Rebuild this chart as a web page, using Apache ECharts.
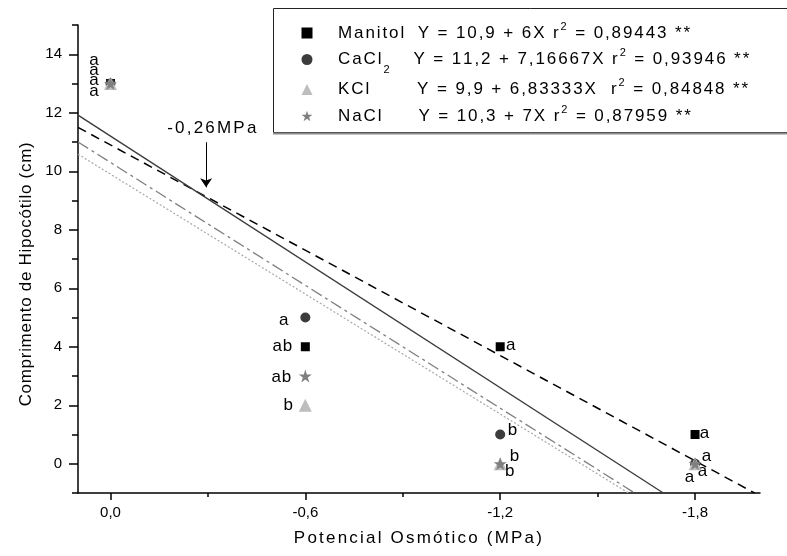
<!DOCTYPE html>
<html>
<head>
<meta charset="utf-8">
<title>Comprimento de Hipocótilo</title>
<script src="https://cdn.jsdelivr.net/npm/echarts@6.0.0/dist/echarts.min.js"></script>
<style>
  html, body { margin: 0; padding: 0; background: #fff; }
  #chart { width: 787px; height: 556px; }
</style>
</head>
<body>
<div id="chart"></div>
<script>
// Osmotic potential levels (MPa) and hypocotyl length (cm) per solute
const potentials = [0, -0.6, -1.2, -1.8];
const manitol = [13, 4, 4, 1];
const cacl2 = [13, 5, 1, 0];
const kcl = [13, 2, 0, 0];
const nacl = [13, 3, 0, 0];

// Tukey letters for each point
const manitolLetters = ['a', 'ab', 'a', 'a'];
const cacl2Letters = ['a', 'a', 'b', 'a'];
const kclLetters = ['a', 'b', 'b', 'a'];
const naclLetters = ['a', 'ab', 'b', 'a'];

// Linear regressions Y = a + bX
const intercepts = [10.9, 11.2, 9.9, 10.3];
const slopes = [6, 7.16667, 6.83333, 7];
const rSquared = [0.89443, 0.93946, 0.84848, 0.87959];

const xTicks = [0, -0.6, -1.2, -1.8];
const xMinorTicks = [-0.3, -0.9, -1.5];
const yTicks = [0, 2, 4, 6, 8, 10, 12, 14];
const yMinorTicks = [-1, 1, 3, 5, 7, 9, 11, 13, 15];

const FONT = '"Liberation Sans", Arial, Helvetica, sans-serif';
const LS = 1.9;
const X_MIN = -2.0, X_MAX = 0.1, Y_MIN = -1, Y_MAX = 15;

// Spread text out letter by letter using rich-text tokens
function sp(str, key) {
  return Array.from(str).map(c => '{' + key + '|' + c + '}').join('');
}
const comma = v => String(v).replace('.', ',');

const seriesNames = ['Manitol', 'CaCl2', 'KCl', 'NaCl'];
const nameRich = {
  Manitol: sp('Manitol', 't'),
  CaCl2: sp('CaCl', 't') + '{sub|2}',
  KCl: sp('KCl', 't'),
  NaCl: sp('NaCl', 't')
};
const gapKeys = ['g0', 'g1', 'g2', 'g3'];
const eqSep = [' ', ' ', '  ', ' '];

const legendText = {};
seriesNames.forEach((n, i) => {
  legendText[n] = '{pad| }' + nameRich[n] + '{' + gapKeys[i] + '| }' +
    sp('Y = ' + comma(intercepts[i]) + ' + ' + comma(slopes[i]) + 'X' + eqSep[i] + 'r', 't') +
    '{sup|2}' + sp(' = ' + comma(rSquared[i]) + ' **', 't');
});

const LH = 24;
const legendRich = {
  t: { fontSize: 17, fontFamily: FONT, color: '#000', lineHeight: LH, padding: [0, LS, 0, 0] },
  sup: { fontSize: 11, fontFamily: FONT, color: '#000', lineHeight: LH, verticalAlign: 'top', padding: [0, LS, 0, 0] },
  sub: { fontSize: 11, fontFamily: FONT, color: '#000', lineHeight: LH, verticalAlign: 'top', padding: [16.5, LS, 0, 0] },
  pad: { width: 20.5, lineHeight: LH },
  g0: { width: 11.6, lineHeight: LH },
  g1: { width: 22, lineHeight: LH },
  g2: { width: 46, lineHeight: LH },
  g3: { width: 35, lineHeight: LH }
};

const starPath = 'path://M50,2 L61.2,36.2 L97.6,36.2 L68.2,57.4 L79.4,91.6 L50,70.4 L20.6,91.6 L31.8,57.4 L2.4,36.2 L38.8,36.2 Z';
const markers = [
  { symbol: 'rect', size: 9, color: '#000000', icon: 'rect' },
  { symbol: 'circle', size: 10, color: '#3c3c3c', icon: 'circle' },
  { symbol: 'triangle', size: 13, color: '#bdbdbd', icon: 'triangle' },
  { symbol: starPath, size: 13, color: '#7f7f7f', icon: starPath }
];

// Letter placement around each point (pixel offsets from the marker centre)
const letterOffsets = [
  [[-16, -23], [-22.5, 0], [11, -1.5], [10, -1]],
  [[-16, -13], [-21, 2.5], [12.7, -4], [8, 7.7]],
  [[-16, -3], [-16.5, 0], [10, 8], [-5, 14]],
  [[-16, 8], [-23.5, 1], [14.7, -7], [12, -7]]
];

const valueSets = [manitol, cacl2, kcl, nacl];
const letterSets = [manitolLetters, cacl2Letters, kclLetters, naclLetters];

const scatterSeries = seriesNames.map((name, s) => ({
  name: name,
  type: 'scatter',
  xAxisIndex: 0,
  yAxisIndex: 0,
  symbol: markers[s].symbol,
  symbolSize: markers[s].size,
  itemStyle: { color: markers[s].color, opacity: 1 },
  z: 5 + s,
  silent: true,
  data: potentials.map((x, i) => ({
    value: [x, valueSets[s][i]],
    label: { offset: letterOffsets[s][i] }
  })),
  label: {
    show: true,
    position: 'inside',
    color: '#000',
    formatter: p => sp(letterSets[s][p.dataIndex], 'p'),
    rich: { p: { fontSize: 17, fontFamily: FONT, color: '#000', padding: [0, 1, 0, 0] } }
  }
}));

const fitStyles = [
  { color: '#000000', width: 1.5, type: [9, 6] },
  { color: '#3c3c3c', width: 1.4, type: 'solid' },
  { color: '#a8a8a8', width: 1.2, type: [2, 2] },
  { color: '#7f7f7f', width: 1.3, type: [12, 4, 3, 4] }
];

const fitSeries = seriesNames.map((name, s) => {
  const a = intercepts[s], b = slopes[s];
  const xEnd = Math.max(X_MIN, (Y_MIN - a) / b);
  return {
    name: name + ' ajuste',
    type: 'line',
    xAxisIndex: 0,
    yAxisIndex: 0,
    showSymbol: false,
    silent: true,
    z: 3,
    lineStyle: fitStyles[s],
    data: [[X_MAX, a + b * X_MAX], [xEnd, a + b * xEnd]]
  };
});

// Arrow and label marking where the Manitol and CaCl2 lines meet
fitSeries[0].markLine = {
  silent: true,
  symbol: ['none', 'arrow'],
  symbolSize: 9,
  label: { show: false },
  lineStyle: { color: '#000', width: 1, type: 'solid' },
  data: [[{ coord: [-0.2945, 10.99] }, { coord: [-0.2945, 9.45] }]]
};
fitSeries[0].markPoint = {
  silent: true,
  symbol: 'circle',
  symbolSize: 1,
  itemStyle: { color: 'rgba(0,0,0,0)' },
  label: {
    show: true,
    position: 'inside',
    color: '#000',
    formatter: () => sp('-0,26MPa', 'm'),
    rich: { m: { fontSize: 17, fontFamily: FONT, color: '#000', padding: [0, 2.2, 0, 0] } }
  },
  data: [{ coord: [-0.3154, 11.47], value: 0 }]
};

const axisLineStyle = { color: '#000', width: 1.5 };

const option = {
  animation: false,
  backgroundColor: '#fff',
  textStyle: { fontFamily: FONT },
  grid: { left: 78, right: 27, top: 25, bottom: 63, containLabel: false },
  graphic: [
    { type: 'rect', z: 0, shape: { x: 273.5, y: 8.5, width: 530, height: 124 },
      style: { fill: '#fff', stroke: '#222', lineWidth: 1 } },
    { type: 'line', z: 0, shape: { x1: 273, y1: 133.5, x2: 787, y2: 133.5 },
      style: { stroke: '#8a8a8a', lineWidth: 2 } }
  ],
  legend: {
    orient: 'vertical',
    left: 301.5,
    top: 21,
    padding: 0,
    itemWidth: 11,
    itemHeight: 11,
    itemGap: 2.5,
    selectedMode: false,
    z: 10,
    data: seriesNames.map((n, s) => ({ name: n, icon: markers[s].icon })),
    formatter: n => legendText[n],
    textStyle: { fontSize: 17, lineHeight: LH, color: '#000', fontFamily: FONT, rich: legendRich }
  },
  xAxis: [
    {
      type: 'value',
      min: X_MIN,
      max: X_MAX,
      inverse: true,
      position: 'bottom',
      name: sp('Potencial Osmótico (MPa)', 'n'),
      nameLocation: 'middle',
      nameGap: 37,
      nameTextStyle: {
        rich: { n: { fontSize: 17, fontFamily: FONT, color: '#000', padding: [0, 2.2, 0, 0] } }
      },
      splitLine: { show: false },
      axisLine: { show: true, onZero: false, lineStyle: axisLineStyle },
      axisTick: { show: true, length: 7, lineStyle: axisLineStyle, customValues: xTicks },
      axisLabel: {
        customValues: xTicks,
        margin: 12,
        fontSize: 15,
        color: '#000',
        fontFamily: FONT,
        formatter: v => v.toFixed(1).replace('.', ',')
      }
    },
    {
      type: 'value',
      min: X_MIN,
      max: X_MAX,
      inverse: true,
      position: 'bottom',
      splitLine: { show: false },
      axisLine: { show: false, onZero: false },
      axisTick: { show: true, length: 4, lineStyle: axisLineStyle, customValues: xMinorTicks },
      axisLabel: { show: false }
    }
  ],
  yAxis: [
    {
      type: 'value',
      min: Y_MIN,
      max: Y_MAX,
      position: 'left',
      name: sp('Comprimento de Hipocótilo (cm)', 'n'),
      nameLocation: 'middle',
      nameGap: 43,
      nameTextStyle: {
        padding: [0, 30, 0, 0],
        rich: { n: { fontSize: 17, fontFamily: FONT, color: '#000', padding: [0, 0.7, 0, 0] } }
      },
      splitLine: { show: false },
      axisLine: { show: true, onZero: false, lineStyle: axisLineStyle },
      axisTick: { show: true, length: 9, lineStyle: axisLineStyle, customValues: yTicks },
      axisLabel: {
        customValues: yTicks,
        margin: 16,
        fontSize: 15,
        color: '#000',
        fontFamily: FONT
      }
    },
    {
      type: 'value',
      min: Y_MIN,
      max: Y_MAX,
      position: 'left',
      splitLine: { show: false },
      axisLine: { show: false, onZero: false },
      axisTick: { show: true, length: 6, lineStyle: axisLineStyle, customValues: yMinorTicks },
      axisLabel: { show: false }
    }
  ],
  series: fitSeries.concat(scatterSeries)
};

const chart = echarts.init(document.getElementById('chart'), null, { renderer: 'canvas' });
chart.setOption(option);
</script>
</body>
</html>
